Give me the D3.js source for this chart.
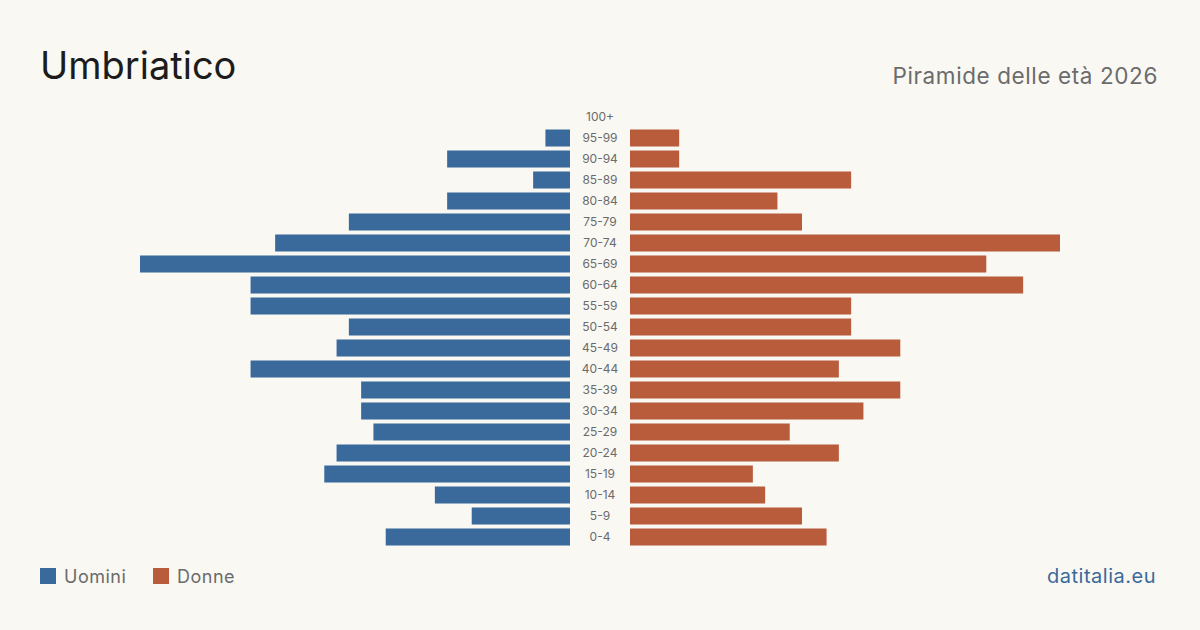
<!DOCTYPE html>
<html><head><meta charset="utf-8">
<script src="https://cdn.jsdelivr.net/npm/d3@7"></script>
<style>
html,body{margin:0;padding:0;background:#f9f8f3;}
svg{display:block;font-family:Inter,"Noto Sans",sans-serif;}
</style></head>
<body><svg id="c" width="1200" height="630"></svg>
<script>
const ageGroups = ["100+","95-99","90-94","85-89","80-84","75-79","70-74","65-69","60-64","55-59","50-54","45-49","40-44","35-39","30-34","25-29","20-24","15-19","10-14","5-9","0-4"];
const men   = [0,2,10,3,10,18,24,35,26,26,18,19,26,17,17,16,19,20,11,8,15];
const women = [0,4,4,18,12,14,35,29,32,18,18,22,17,22,19,13,17,10,11,14,16];
const title = "Umbriatico";
const subtitle = "Piramide delle età 2026";
const legendLabels = ["Uomini","Donne"];
const source = "datitalia.eu";

const blue = "#3a6a9b", red = "#b95c3c";
const svg = d3.select("#c");
svg.append("rect").attr("width",1200).attr("height",630).attr("fill","#f9f8f3");

const maxV = d3.max(men.concat(women));
const y = d3.scaleBand().domain(ageGroups).range([106.5,547.5]).paddingInner(0.19).paddingOuter(0.095);
const xL = d3.scaleLinear().domain([0,maxV]).range([570,140]);
const xR = d3.scaleLinear().domain([0,maxV]).range([630,1060]);

svg.append("g").selectAll("rect").data(ageGroups).join("rect")
  .attr("x",(d,i)=>xL(men[i])).attr("y",d=>y(d))
  .attr("width",(d,i)=>xL(0)-xL(men[i])).attr("height",y.bandwidth()).attr("fill",blue);
svg.append("g").selectAll("rect").data(ageGroups).join("rect")
  .attr("x",xR(0)).attr("y",d=>y(d))
  .attr("width",(d,i)=>xR(women[i])-xR(0)).attr("height",y.bandwidth()).attr("fill",red);

svg.append("g").selectAll("text").data(ageGroups).join("text")
  .attr("x",600).attr("y",d=>y(d)+y.bandwidth()/2).attr("dy","0.35em")
  .attr("text-anchor","middle").attr("font-size",12).attr("fill","#6b6b6b").text(d=>d);

svg.append("text").attr("x",40).attr("y",79).attr("font-size",38).attr("fill","#1c1c1c").text(title);
svg.append("text").attr("x",1158).attr("y",84).attr("text-anchor","end").attr("font-size",22.5).attr("letter-spacing",0.6).attr("fill","#6b6b6b").text(subtitle);

const lg = svg.append("g");
[[blue,40,64],[red,153,177]].forEach((c,i)=>{
  lg.append("rect").attr("x",c[1]).attr("y",568).attr("width",16).attr("height",16).attr("fill",c[0]);
  lg.append("text").attr("x",c[2]).attr("y",583).attr("font-size",18).attr("letter-spacing",0.5).attr("fill","#6b6b6b").text(legendLabels[i]);
});
svg.append("text").attr("x",1156).attr("y",583).attr("text-anchor","end").attr("font-size",20).attr("letter-spacing",0.5).attr("fill",blue).text(source);
</script></body></html>
